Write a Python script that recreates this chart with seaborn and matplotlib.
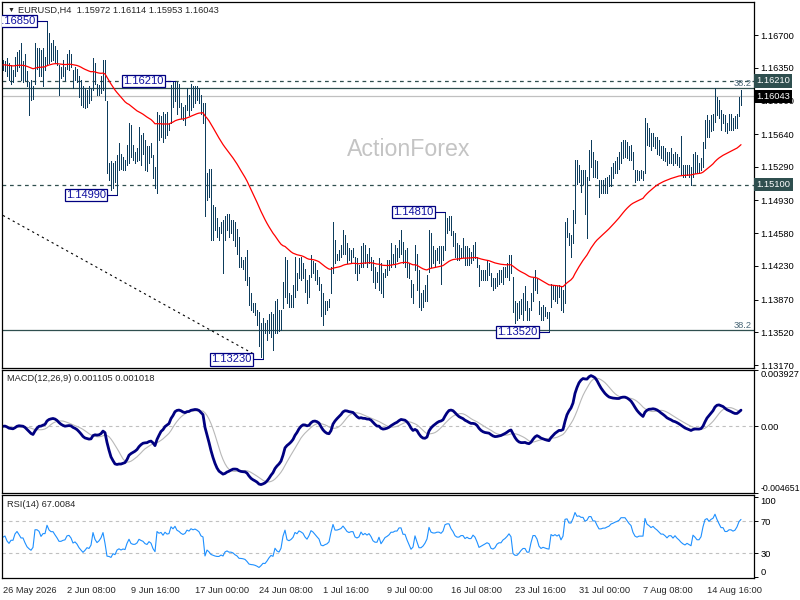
import matplotlib
matplotlib.use("Agg")
import matplotlib.pyplot as plt
import seaborn as sns
import numpy as np
import pandas as pd

# EURUSD H4 bars
high = [
    1.1643, 1.1642, 1.1645, 1.1640, 1.1638, 1.1633, 1.1647, 1.1652, 1.1654, 1.1661,
    1.1642, 1.1650, 1.1631, 1.1620, 1.1622, 1.1615, 1.1661, 1.1656, 1.1656, 1.1654,
    1.1656, 1.1647, 1.1685, 1.1672, 1.1661, 1.1665, 1.1658, 1.1654, 1.1638, 1.1636,
    1.1643, 1.1636, 1.1650, 1.1654, 1.1650, 1.1633, 1.1636, 1.1634, 1.1626, 1.1622,
    1.1615, 1.1613, 1.1611, 1.1615, 1.1613, 1.1645, 1.1640, 1.1618, 1.1617, 1.1626,
    1.1643, 1.1643, 1.1599, 1.1533, 1.1535, 1.1533, 1.1535, 1.1542, 1.1554, 1.1543,
    1.1540, 1.1536, 1.1552, 1.1576, 1.1574, 1.1552, 1.1545, 1.1549, 1.1572, 1.1563,
    1.1565, 1.1558, 1.1551, 1.1551, 1.1554, 1.1542, 1.1529, 1.1588, 1.1584, 1.1583,
    1.1588, 1.1586, 1.1588, 1.1576, 1.1617, 1.1620, 1.1621, 1.1620, 1.1618, 1.1597,
    1.1593, 1.1595, 1.1613, 1.1606, 1.1618, 1.1615, 1.1615, 1.1615, 1.1613, 1.1606,
    1.1597, 1.1597, 1.1522, 1.1527, 1.1527, 1.1488, 1.1486, 1.1474, 1.1465, 1.1470,
    1.1472, 1.1476, 1.1479, 1.1479, 1.1472, 1.1472, 1.1470, 1.1463, 1.1454, 1.1433,
    1.1429, 1.1433, 1.1440, 1.1411, 1.1394, 1.1383, 1.1383, 1.1376, 1.1374, 1.1362,
    1.1367, 1.1362, 1.1365, 1.1372, 1.1374, 1.1372, 1.1386, 1.1388, 1.1376, 1.1376,
    1.1406, 1.1433, 1.1429, 1.1394, 1.1392, 1.1403, 1.1433, 1.1415, 1.1431, 1.1433,
    1.1426, 1.1420, 1.1408, 1.1413, 1.1435, 1.1428, 1.1426, 1.1419, 1.1411, 1.1404,
    1.1394, 1.1386, 1.1385, 1.1388, 1.1422, 1.1470, 1.1451, 1.1436, 1.1440, 1.1445,
    1.1461, 1.1456, 1.1447, 1.1442, 1.1440, 1.1442, 1.1433, 1.1431, 1.1424, 1.1444,
    1.1447, 1.1445, 1.1436, 1.1442, 1.1433, 1.1429, 1.1422, 1.1417, 1.1431, 1.1426,
    1.1415, 1.1420, 1.1429, 1.1429, 1.1447, 1.1436, 1.1445, 1.1442, 1.1451, 1.1461,
    1.1449, 1.1440, 1.1442, 1.1426, 1.1408, 1.1404, 1.1445, 1.1436, 1.1419, 1.1394,
    1.1397, 1.1403, 1.1413, 1.1461, 1.1458, 1.1444, 1.1440, 1.1442, 1.1444, 1.1444,
    1.1444, 1.1481, 1.1474, 1.1476, 1.1476, 1.1460, 1.1458, 1.1447, 1.1445, 1.1442,
    1.1453, 1.1444, 1.1444, 1.1442, 1.1438, 1.1445, 1.1449, 1.1433, 1.1424, 1.1419,
    1.1419, 1.1419, 1.1428, 1.1426, 1.1415, 1.1410, 1.1410, 1.1415, 1.1419, 1.1419,
    1.1422, 1.1422, 1.1426, 1.1435, 1.1435, 1.1411, 1.1386, 1.1383, 1.1385, 1.1388,
    1.1394, 1.1401, 1.1386, 1.1378, 1.1394, 1.1410, 1.1419, 1.1410, 1.1386, 1.1379,
    1.1381, 1.1379, 1.1374, 1.1374, 1.1404, 1.1403, 1.1403, 1.1401, 1.1403, 1.1401,
    1.1397, 1.1470, 1.1474, 1.1458, 1.1456, 1.1483, 1.1536, 1.1536, 1.1531, 1.1526,
    1.1526, 1.1526, 1.1518, 1.1547, 1.1558, 1.1545, 1.1536, 1.1535, 1.1515, 1.1515,
    1.1515, 1.1517, 1.1518, 1.1520, 1.1529, 1.1533, 1.1535, 1.1540, 1.1545, 1.1556,
    1.1558, 1.1558, 1.1556, 1.1551, 1.1552, 1.1545, 1.1526, 1.1526, 1.1524, 1.1526,
    1.1524, 1.1581, 1.1576, 1.1570, 1.1565, 1.1565, 1.1561, 1.1561, 1.1558, 1.1551,
    1.1551, 1.1549, 1.1545, 1.1545, 1.1549, 1.1543, 1.1545, 1.1543, 1.1540, 1.1562,
    1.1531, 1.1531, 1.1531, 1.1531, 1.1529, 1.1543, 1.1545, 1.1542, 1.1533, 1.1538,
    1.1556, 1.1579, 1.1584, 1.1579, 1.1584, 1.1586, 1.1613, 1.1604, 1.1601, 1.1590,
    1.1586, 1.1584, 1.1576, 1.1586, 1.1586, 1.1581, 1.1583, 1.1586, 1.1604, 1.16114,
]
low = [
    1.1633, 1.1631, 1.1626, 1.1622, 1.1618, 1.1620, 1.1626, 1.1631, 1.1636, 1.1622,
    1.1620, 1.1622, 1.1615, 1.1584, 1.1601, 1.1602, 1.1618, 1.1634, 1.1626, 1.1626,
    1.1615, 1.1633, 1.1638, 1.1640, 1.1642, 1.1643, 1.1640, 1.1638, 1.1606, 1.1624,
    1.1626, 1.1622, 1.1634, 1.1633, 1.1636, 1.1613, 1.1622, 1.1620, 1.1604, 1.1595,
    1.1593, 1.1592, 1.1593, 1.1597, 1.1601, 1.1611, 1.1618, 1.1606, 1.1606, 1.1608,
    1.1611, 1.1601, 1.1522, 1.1515, 1.1504, 1.1506, 1.1513, 1.1499, 1.1526, 1.1527,
    1.1526, 1.1526, 1.1531, 1.1533, 1.1540, 1.1536, 1.1533, 1.1535, 1.1536, 1.1531,
    1.1543, 1.1526, 1.1524, 1.1533, 1.1540, 1.1517, 1.1506, 1.1501, 1.1558, 1.1561,
    1.1556, 1.1560, 1.1563, 1.1568, 1.1576, 1.1593, 1.1599, 1.1586, 1.1593, 1.1581,
    1.1579, 1.1574, 1.1590, 1.1584, 1.1590, 1.1593, 1.1597, 1.1601, 1.1597, 1.1586,
    1.1576, 1.1476, 1.1494, 1.1497, 1.1451, 1.1451, 1.1461, 1.1454, 1.1451, 1.1458,
    1.1415, 1.1451, 1.1461, 1.1454, 1.1458, 1.1451, 1.1444, 1.1436, 1.1422, 1.1422,
    1.1420, 1.1408, 1.1403, 1.1381, 1.1376, 1.1374, 1.1370, 1.1360, 1.1337, 1.1326,
    1.1323, 1.1351, 1.1344, 1.1351, 1.1347, 1.1333, 1.1351, 1.1351, 1.1353, 1.1354,
    1.1378, 1.1390, 1.1383, 1.1379, 1.1379, 1.1379, 1.1390, 1.1397, 1.1410, 1.1408,
    1.1410, 1.1395, 1.1383, 1.1390, 1.1411, 1.1415, 1.1408, 1.1404, 1.1397, 1.1369,
    1.1360, 1.1372, 1.1376, 1.1379, 1.1394, 1.1415, 1.1426, 1.1429, 1.1429, 1.1433,
    1.1436, 1.1436, 1.1426, 1.1429, 1.1426, 1.1433, 1.1415, 1.1408, 1.1415, 1.1422,
    1.1422, 1.1426, 1.1422, 1.1426, 1.1419, 1.1406, 1.1399, 1.1406, 1.1397, 1.1394,
    1.1390, 1.1411, 1.1413, 1.1419, 1.1422, 1.1426, 1.1422, 1.1428, 1.1433, 1.1436,
    1.1426, 1.1422, 1.1411, 1.1410, 1.1390, 1.1383, 1.1419, 1.1397, 1.1379, 1.1376,
    1.1379, 1.1385, 1.1386, 1.1417, 1.1422, 1.1426, 1.1422, 1.1429, 1.1426, 1.1404,
    1.1429, 1.1440, 1.1458, 1.1461, 1.1456, 1.1444, 1.1433, 1.1429, 1.1429, 1.1433,
    1.1433, 1.1424, 1.1424, 1.1424, 1.1426, 1.1429, 1.1431, 1.1422, 1.1401, 1.1408,
    1.1408, 1.1408, 1.1408, 1.1413, 1.1401, 1.1397, 1.1399, 1.1401, 1.1404, 1.1406,
    1.1404, 1.1411, 1.1411, 1.1408, 1.1415, 1.1374, 1.1362, 1.1365, 1.1367, 1.1372,
    1.1365, 1.1376, 1.1365, 1.1365, 1.1376, 1.1386, 1.1397, 1.1394, 1.1372, 1.1365,
    1.1365, 1.1369, 1.1367, 1.1352, 1.1379, 1.1388, 1.1386, 1.1383, 1.1390, 1.1376,
    1.1374, 1.1383, 1.1454, 1.1445, 1.1433, 1.1447, 1.1469, 1.1511, 1.1513, 1.1502,
    1.1511, 1.1479, 1.1453, 1.1515, 1.1529, 1.1518, 1.1518, 1.1517, 1.1497, 1.1501,
    1.1501, 1.1501, 1.1501, 1.1508, 1.1508, 1.1517, 1.1522, 1.1522, 1.1527, 1.1533,
    1.1538, 1.1540, 1.1538, 1.1536, 1.1536, 1.1527, 1.1513, 1.1515, 1.1515, 1.1517,
    1.1515, 1.1522, 1.1552, 1.1551, 1.1547, 1.1551, 1.1549, 1.1543, 1.1542, 1.1538,
    1.1536, 1.1535, 1.1531, 1.1533, 1.1533, 1.1531, 1.1533, 1.1531, 1.1529, 1.1520,
    1.1518, 1.1518, 1.1520, 1.1518, 1.1510, 1.1518, 1.1522, 1.1522, 1.1522, 1.1526,
    1.1529, 1.1549, 1.1561, 1.1561, 1.1567, 1.1568, 1.1577, 1.1584, 1.1581, 1.1568,
    1.1576, 1.1567, 1.1565, 1.1568, 1.1568, 1.1568, 1.1570, 1.1570, 1.1583, 1.15953,
]
close = [
    1.1638, 1.1640, 1.1631, 1.1626, 1.1631, 1.1631, 1.1642, 1.1647, 1.1642, 1.1636,
    1.1636, 1.1627, 1.1618, 1.1613, 1.1609, 1.1613, 1.1650, 1.1650, 1.1647, 1.1636,
    1.1643, 1.1643, 1.1668, 1.1658, 1.1654, 1.1654, 1.1647, 1.1640, 1.1631, 1.1631,
    1.1633, 1.1634, 1.1642, 1.1643, 1.1638, 1.1627, 1.1629, 1.1624, 1.1615, 1.1608,
    1.1601, 1.1604, 1.1608, 1.1606, 1.1611, 1.1636, 1.1620, 1.1611, 1.1615, 1.1622,
    1.1636, 1.1604, 1.1529, 1.1526, 1.1518, 1.1529, 1.1522, 1.1536, 1.1540, 1.1533,
    1.1536, 1.1533, 1.1551, 1.1565, 1.1547, 1.1543, 1.1543, 1.1547, 1.1558, 1.1554,
    1.1551, 1.1543, 1.1540, 1.1547, 1.1542, 1.1522, 1.1508, 1.1579, 1.1572, 1.1576,
    1.1565, 1.1579, 1.1572, 1.1574, 1.1608, 1.1601, 1.1615, 1.1601, 1.1597, 1.1590,
    1.1586, 1.1590, 1.1604, 1.1601, 1.1611, 1.1608, 1.1611, 1.1608, 1.1604, 1.1593,
    1.1590, 1.1494, 1.1515, 1.1501, 1.1479, 1.1472, 1.1465, 1.1461, 1.1461, 1.1465,
    1.1458, 1.1469, 1.1472, 1.1465, 1.1465, 1.1461, 1.1451, 1.1444, 1.1429, 1.1428,
    1.1426, 1.1422, 1.1408, 1.1386, 1.1381, 1.1379, 1.1374, 1.1365, 1.1351, 1.1354,
    1.1358, 1.1356, 1.1360, 1.1365, 1.1369, 1.1365, 1.1379, 1.1369, 1.1365, 1.1372,
    1.1401, 1.1422, 1.1390, 1.1386, 1.1390, 1.1397, 1.1415, 1.1411, 1.1422, 1.1419,
    1.1415, 1.1404, 1.1397, 1.1408, 1.1426, 1.1422, 1.1415, 1.1408, 1.1401, 1.1379,
    1.1376, 1.1379, 1.1381, 1.1386, 1.1415, 1.1451, 1.1433, 1.1433, 1.1436, 1.1440,
    1.1451, 1.1444, 1.1436, 1.1433, 1.1436, 1.1436, 1.1422, 1.1419, 1.1422, 1.1436,
    1.1429, 1.1433, 1.1429, 1.1433, 1.1426, 1.1415, 1.1411, 1.1411, 1.1422, 1.1404,
    1.1411, 1.1419, 1.1422, 1.1426, 1.1433, 1.1433, 1.1436, 1.1436, 1.1444, 1.1444,
    1.1433, 1.1433, 1.1422, 1.1411, 1.1397, 1.1401, 1.1426, 1.1408, 1.1386, 1.1386,
    1.1390, 1.1397, 1.1408, 1.1451, 1.1436, 1.1433, 1.1433, 1.1436, 1.1436, 1.1433,
    1.1440, 1.1465, 1.1469, 1.1469, 1.1458, 1.1451, 1.1440, 1.1436, 1.1436, 1.1440,
    1.1440, 1.1433, 1.1436, 1.1433, 1.1433, 1.1440, 1.1436, 1.1426, 1.1411, 1.1413,
    1.1415, 1.1417, 1.1419, 1.1417, 1.1406, 1.1404, 1.1406, 1.1411, 1.1413, 1.1413,
    1.1417, 1.1419, 1.1422, 1.1426, 1.1422, 1.1383, 1.1376, 1.1376, 1.1379, 1.1383,
    1.1386, 1.1386, 1.1376, 1.1376, 1.1390, 1.1404, 1.1404, 1.1397, 1.1379, 1.1372,
    1.1374, 1.1372, 1.1370, 1.1369, 1.1397, 1.1394, 1.1397, 1.1394, 1.1397, 1.1386,
    1.1394, 1.1458, 1.1461, 1.1451, 1.1451, 1.1476, 1.1529, 1.1518, 1.1522, 1.1518,
    1.1518, 1.1508, 1.1515, 1.1540, 1.1540, 1.1529, 1.1529, 1.1518, 1.1508, 1.1508,
    1.1511, 1.1511, 1.1515, 1.1518, 1.1526, 1.1529, 1.1533, 1.1536, 1.1540, 1.1551,
    1.1551, 1.1551, 1.1547, 1.1543, 1.1540, 1.1529, 1.1522, 1.1520, 1.1522, 1.1522,
    1.1522, 1.1572, 1.1561, 1.1558, 1.1554, 1.1558, 1.1554, 1.1551, 1.1547, 1.1543,
    1.1543, 1.1540, 1.1536, 1.1540, 1.1540, 1.1536, 1.1540, 1.1536, 1.1533, 1.1529,
    1.1526, 1.1524, 1.1526, 1.1524, 1.1522, 1.1536, 1.1533, 1.1529, 1.1529, 1.1533,
    1.1551, 1.1572, 1.1576, 1.1572, 1.1579, 1.1583, 1.1601, 1.1593, 1.1586, 1.1579,
    1.1579, 1.1572, 1.1572, 1.1576, 1.1576, 1.1574, 1.1576, 1.1583, 1.1597, 1.16043,
]

date_labels = ["26 May 2026", "2 Jun 08:00", "9 Jun 16:00", "17 Jun 00:00",
               "24 Jun 08:00", "1 Jul 16:00", "9 Jul 00:00", "16 Jul 08:00",
               "23 Jul 16:00", "31 Jul 00:00", "7 Aug 08:00", "14 Aug 16:00"]
bars_per_label = 32

price_ticks = [1.16700, 1.16350, 1.16000, 1.15640, 1.15290, 1.14930,
               1.14580, 1.14230, 1.13870, 1.13520, 1.13170]
marked_bar = [22, 86, 57, 221, 130, 273]
marked_price = [1.16850, 1.16210, 1.14990, 1.14810, 1.13230, 1.13520]
level_lines = [1.16210, 1.15100]
fib_lines = [1.16130, 1.13540]
trend_bar = [0, 126]
trend_price = [1.1477, 1.1328]
bid = 1.16043

macd_max, macd_min = 0.003927, -0.004651
rsi_ticks = [100, 70, 30, 0]

header = "EURUSD,H4  1.15972 1.16114 1.15953 1.16043"
macd_title = "MACD(12,26,9) 0.001105 0.001018"
rsi_title = "RSI(14) 67.0084"

# indicators
df = pd.DataFrame({"bar": np.arange(len(close)), "high": high, "low": low, "close": close})
df["ema"] = df["close"].ewm(span=55, adjust=False).mean()
df["macd"] = (df["close"].ewm(span=12, adjust=False).mean()
              - df["close"].ewm(span=26, adjust=False).mean())
df["signal"] = df["macd"].rolling(9, min_periods=1).mean()
delta = df["close"].diff().fillna(0)
up = delta.clip(lower=0)
down = -delta.clip(upper=0)
seed = delta.abs().iloc[1:15].mean() / 2
up.iloc[0] = seed
down.iloc[0] = seed
gain = up.ewm(alpha=1 / 14, adjust=False).mean()
loss = down.ewm(alpha=1 / 14, adjust=False).mean()
df["rsi"] = 100 * gain / (gain + loss)

sns.set_style("white")
plt.rcParams["font.family"] = ["Liberation Sans", "DejaVu Sans"]
FS = 6.7
bar_color = "#0d3c5c"
slate = "#2f4f4f"

fig = plt.figure(figsize=(8, 6), dpi=100)
left, width = 2 / 800, 752 / 800
ax = fig.add_axes([left, 1 - 368 / 600, width, 366 / 600])
axm = fig.add_axes([left, 1 - 493 / 600, width, 123 / 600])
axr = fig.add_axes([left, 1 - 578 / 600, width, 83 / 600])

for a in (ax, axm, axr):
    a.set_xlim(-0.5, 375.5)
    for s in a.spines.values():
        s.set_color("black")
        s.set_linewidth(0.9)
    a.yaxis.tick_right()
    a.tick_params(axis="y", direction="out", length=3, width=0.7, pad=1.5,
                  labelsize=FS, colors="black")

# ---- price panel
ax.set_ylim(1.13138, 1.17053)
ax.text(0.541, 0.598, "ActionForex", transform=ax.transAxes, ha="center", va="center",
        fontsize=16.7, color="#c4c4c4", zorder=0)
for p in level_lines:
    ax.axhline(p, color=slate, lw=0.9, ls=(0, (3, 3)), zorder=1)
for p in fib_lines:
    ax.axhline(p, color=slate, lw=0.9, zorder=1)
    ax.text(0.997, p + 0.00005, "38.2", transform=ax.get_yaxis_transform(),
            ha="right", va="bottom", fontsize=FS, color="#4a6878")
ax.axhline(bid, color="#c0c0c0", lw=0.9, zorder=1)
ax.plot(trend_bar, trend_price, color="black", lw=0.8, ls=(0, (2, 3)), zorder=1)

ax.vlines(df["bar"], df["low"], df["high"], colors=bar_color, linewidth=0.6,
          antialiased=False, zorder=2)
sns.lineplot(data=df, x="bar", y="ema", ax=ax, color="red", linewidth=0.9, zorder=3)

for b, p in zip(marked_bar, marked_price):
    ax.plot([b - 5, b], [p, p], color="#000080", lw=0.8, zorder=4)
    ax.text(b - 5.6, p, f"{p:.5f}", ha="right", va="center", fontsize=8,
            color="#1010a0", zorder=5, clip_on=True,
            bbox=dict(boxstyle="square,pad=0.1", fc="white", ec="#000080", lw=0.9))

ax.set_yticks(price_ticks, [f"{v:.5f}" for v in price_ticks])
ax.set_xticks([])
for p, fc in ((1.16210, slate), (bid, "black"), (1.15100, slate)):
    ax.text(1.003, p, f"{p:.5f}", transform=ax.get_yaxis_transform(), ha="left",
            va="center", fontsize=FS, color="white", zorder=6, clip_on=False,
            bbox=dict(boxstyle="square,pad=0.25", fc=fc, ec="none"))

# ---- MACD panel
axm.set_ylim(macd_min, macd_max)
axm.axhline(0, color="#c0c0c0", lw=0.8, ls=(0, (3, 3)))
sns.lineplot(data=df, x="bar", y="signal", ax=axm, color="#b8b8b8", linewidth=0.8)
sns.lineplot(data=df, x="bar", y="macd", ax=axm, color="#000080", linewidth=2.0)
axm.set_yticks([macd_max, 0.0, macd_min], [f"{macd_max:.6f}", "0.00", f"{macd_min:.6f}"])
tl = axm.get_yticklabels()
tl[0].set_va("top")
tl[2].set_va("bottom")
tl[2].set_fontsize(6.3)
axm.set_xticks([])
axm.text(0.006, 0.965, macd_title, transform=axm.transAxes, ha="left", va="top", fontsize=FS)

# ---- RSI panel
axr.set_ylim(-0.8, 102.4)
for lv in (70, 30):
    axr.axhline(lv, color="#c0c0c0", lw=0.8, ls=(0, (3, 3)))
sns.lineplot(data=df, x="bar", y="rsi", ax=axr, color="#1e90ff", linewidth=0.8)
axr.set_yticks(rsi_ticks, [str(v) for v in rsi_ticks])
tl = axr.get_yticklabels()
tl[0].set_va("top")
tl[3].set_va("bottom")
axr.set_xticks(np.arange(len(date_labels)) * bars_per_label, date_labels, ha="left")
axr.tick_params(axis="x", direction="out", length=3, width=0.7, pad=2.5, labelsize=FS)
axr.text(0.006, 0.94, rsi_title, transform=axr.transAxes, ha="left", va="top", fontsize=FS)

for a in (ax, axm, axr):
    a.set_xlabel("")
    a.set_ylabel("")

fig.text(8 / 800, 1 - 10 / 600, "\u25bc", fontsize=5, va="center", ha="left")
fig.text(18 / 800, 1 - 10 / 600, header, fontsize=FS, va="center", ha="left")

fig.savefig("out.png", dpi=100)
